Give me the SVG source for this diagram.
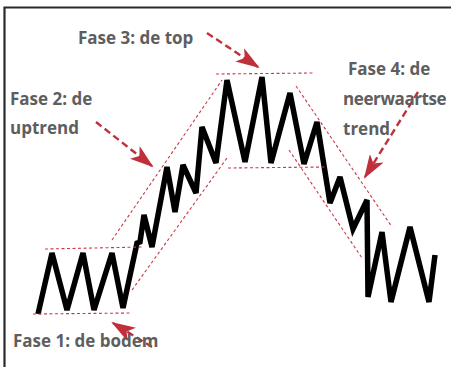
<svg xmlns="http://www.w3.org/2000/svg" width="451" height="367" viewBox="0 0 451 367">
<defs>
<style>
.lbl{font-family:"Open Sans","Liberation Sans",sans-serif;font-weight:bold;font-size:17px;fill:#5e5e5e}
.guide{fill:none;stroke:#cc3a46;stroke-width:1.1;stroke-dasharray:3 2.5}
.arrow{fill:none;stroke:#c0303a;stroke-width:2.4;stroke-dasharray:7 4}
.zig{fill:none;stroke:#000;stroke-width:5.5;stroke-linejoin:miter;stroke-miterlimit:3}
</style>
<marker id="ah" viewBox="0 0 24 16" refX="22" refY="8" markerWidth="24" markerHeight="16" markerUnits="userSpaceOnUse" orient="auto">
<path d="M0,0 L24,8 L0,16 L6,8 z" fill="#c0303a"/>
</marker>
</defs>
<rect width="451" height="367" fill="#fff"/>
<path d="M4.5,367 V7.5 H451" fill="none" stroke="#2a2a2a" stroke-width="2.2"/>
<g id="price">
<polyline class="zig" points="38,314 52,253 67,310 83,253 94,310 112,253 123,308 137,243 140,242 144,215 152,247 167,167 175,212 183,165 196,193 202,127 216,163 227,80 245,162 262,77 271,163 290,93 304,164 317,122 330,203 340,177 353,229 367,200 368,297 382,232 391,302 410,227 429,302 435,255"/>
</g>
<g id="connectors">
<line class="guide" x1="45" y1="249" x2="143" y2="247"/>
<line class="guide" x1="33" y1="314" x2="132" y2="313"/>
<line class="guide" x1="112" y1="240" x2="222" y2="80"/>
<line class="guide" x1="132" y1="290" x2="227" y2="158"/>
<line class="guide" x1="216" y1="74" x2="314" y2="73"/>
<line class="guide" x1="228" y1="168" x2="327" y2="167"/>
<line class="guide" x1="296" y1="86" x2="392" y2="227"/>
<line class="guide" x1="289" y1="150" x2="362" y2="258"/>
<line class="arrow" x1="207" y1="33" x2="258" y2="67" marker-end="url(#ah)"/>
<line class="arrow" x1="96" y1="122" x2="152" y2="166" marker-end="url(#ah)"/>
<line class="arrow" x1="418" y1="92" x2="365" y2="177" marker-end="url(#ah)"/>
<line class="arrow" x1="152" y1="347" x2="113" y2="323" marker-end="url(#ah)"/>
</g>
<g id="fase1"><text class="lbl" x="13" y="347">Fase 1: de bodem</text></g>
<g id="fase2"><text class="lbl" x="10" y="105">Fase 2: de</text><text class="lbl" x="10" y="134">uptrend</text></g>
<g id="fase3"><text class="lbl" x="78" y="44">Fase 3: de top</text></g>
<g id="fase4"><text class="lbl" x="348" y="75">Fase 4: de</text><text class="lbl" x="343" y="105" letter-spacing="-0.4">neerwaartse</text><text class="lbl" x="343" y="135">trend</text></g>
</svg>
